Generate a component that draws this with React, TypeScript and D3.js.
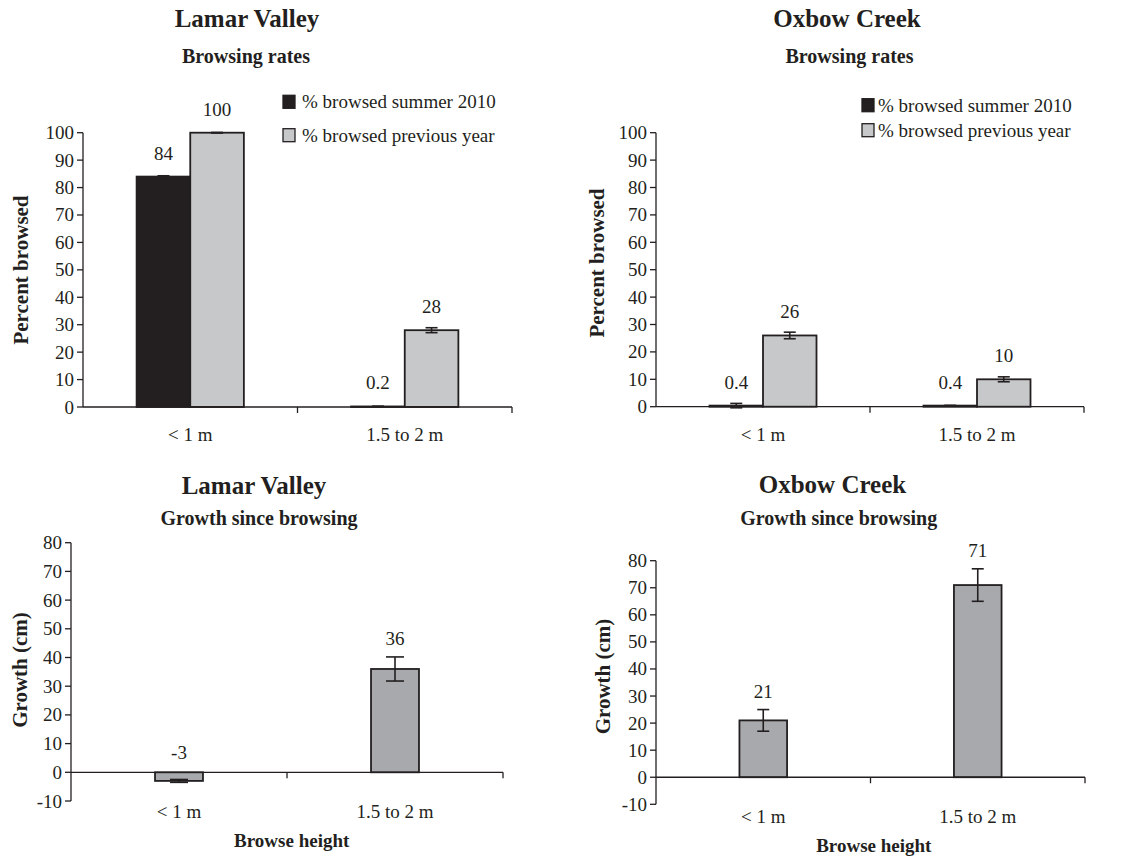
import React from "react";
import * as d3 from "d3";

const FONT = "'Liberation Serif', 'Times New Roman', Times, serif";
const INK = "#231f20";
const COL_2010 = "#231f20";
const COL_PREV = "#c7c8ca";
const COL_GROWTH = "#a7a9ac";

// ---- data ----
const heights = ["< 1 m", "1.5 to 2 m"];
const seriesNames = ["% browsed summer 2010", "% browsed previous year"];

const lamarBrowsed2010 = [84, 0.2];
const lamarBrowsed2010Err = [0.3, 0.1];
const lamarBrowsedPrev = [100, 28];
const lamarBrowsedPrevErr = [0.1, 0.9];

const oxbowBrowsed2010 = [0.4, 0.4];
const oxbowBrowsed2010Err = [0.8, 0.1];
const oxbowBrowsedPrev = [26, 10];
const oxbowBrowsedPrevErr = [1.2, 0.9];

const lamarGrowth = [-3, 36];
const lamarGrowthErr = [0.5, 4.2];
const oxbowGrowth = [21, 71];
const oxbowGrowthErr = [4, 6];

const browseTicks = [0, 10, 20, 30, 40, 50, 60, 70, 80, 90, 100];
const growthTicks = [-10, 0, 10, 20, 30, 40, 50, 60, 70, 80];

type Layout = {
  x0: number; x1: number; yBottom: number; yTop: number;
  title: [number, number]; subtitle: [number, number];
  ylab: [number, number]; xlabBase: number;
  capW: number;
};

function YAxis({ y, x0, ticks }: { y: d3.ScaleLinear<number, number>; x0: number; ticks: number[] }) {
  const [lo, hi] = [d3.min(ticks)!, d3.max(ticks)!];
  return (
    <g>
      <line x1={x0} x2={x0} y1={y(lo)} y2={y(hi)} stroke={INK} strokeWidth={1.3} />
      {ticks.map((t) => (
        <g key={t}>
          <line x1={x0 - 6} x2={x0} y1={y(t)} y2={y(t)} stroke={INK} strokeWidth={1.3} />
          <text x={x0 - 9} y={y(t)} textAnchor="end" dominantBaseline="central" fontSize={19} fill={INK}>
            {t}
          </text>
        </g>
      ))}
    </g>
  );
}

function XAxis({ x, yAxis, labelBase }: { x: d3.ScaleBand<string>; yAxis: number; labelBase: number }) {
  const [r0, r1] = x.range();
  const bounds = heights.map((h) => (x(h) as number) + x.bandwidth()).concat([]);
  return (
    <g>
      <line x1={r0} x2={r1} y1={yAxis} y2={yAxis} stroke={INK} strokeWidth={1.3} />
      {bounds.map((b, i) => (
        <line key={i} x1={b} x2={b} y1={yAxis} y2={yAxis + 6} stroke={INK} strokeWidth={1.3} />
      ))}
      {heights.map((h) => (
        <text key={h} x={(x(h) as number) + x.bandwidth() / 2} y={labelBase} textAnchor="middle" fontSize={19} fill={INK}>
          {h}
        </text>
      ))}
    </g>
  );
}

function ErrorBar({ cx, y, v, e, w }: { cx: number; y: d3.ScaleLinear<number, number>; v: number; e: number; w: number }) {
  return (
    <g stroke={INK} strokeWidth={1.6}>
      <line x1={cx} x2={cx} y1={y(v - e)} y2={y(v + e)} />
      <line x1={cx - w / 2} x2={cx + w / 2} y1={y(v - e)} y2={y(v - e)} />
      <line x1={cx - w / 2} x2={cx + w / 2} y1={y(v + e)} y2={y(v + e)} />
    </g>
  );
}

function Titles({ L, title, subtitle, ylab }: { L: Layout; title: string; subtitle: string; ylab: string }) {
  return (
    <g fill={INK} fontWeight="bold">
      <text x={L.title[0]} y={L.title[1]} textAnchor="middle" fontSize={25}>{title}</text>
      <text x={L.subtitle[0]} y={L.subtitle[1]} textAnchor="middle" fontSize={20}>{subtitle}</text>
      <text
        transform={`translate(${L.ylab[0]},${L.ylab[1]}) rotate(-90)`}
        textAnchor="middle"
        dominantBaseline="central"
        fontSize={21}
      >
        {ylab}
      </text>
    </g>
  );
}

function BrowsePanel({
  L, title, v2010, e2010, vPrev, ePrev, legend,
}: {
  L: Layout; title: string; v2010: number[]; e2010: number[]; vPrev: number[]; ePrev: number[];
  legend: { sx: number; tx: number; rows: [number, number] };
}) {
  const x = d3.scaleBand<string>().domain(heights).range([L.x0, L.x1]).padding(0);
  const y = d3.scaleLinear().domain([0, 100]).range([L.yBottom, L.yTop]);
  const bw = x.bandwidth() * 0.25;
  const series = [
    { vals: v2010, errs: e2010, color: COL_2010, off: -bw },
    { vals: vPrev, errs: ePrev, color: COL_PREV, off: 0 },
  ];
  return (
    <g>
      <Titles L={L} title={title} subtitle="Browsing rates" ylab="Percent browsed" />
      {series.map((s, si) =>
        heights.map((h, i) => {
          const c = (x(h) as number) + x.bandwidth() / 2;
          const bx = c + s.off;
          const v = s.vals[i];
          return (
            <g key={`${si}-${i}`}>
              <rect x={bx} y={y(v)} width={bw} height={y(0) - y(v)} fill={s.color} stroke={INK} strokeWidth={1.8} />
              <ErrorBar cx={bx + bw / 2} y={y} v={v} e={s.errs[i]} w={L.capW} />
              <text x={bx + bw / 2} y={y(v) - 17} textAnchor="middle" fontSize={19} fill={INK}>{v}</text>
            </g>
          );
        })
      )}
      <YAxis y={y} x0={L.x0} ticks={browseTicks} />
      <XAxis x={x} yAxis={y(0)} labelBase={L.xlabBase} />
      {seriesNames.map((n, i) => (
        <g key={n}>
          <rect x={legend.sx} y={legend.rows[i] - 13} width={12} height={13} fill={series[i].color} stroke={INK} strokeWidth={1.3} />
          <text x={legend.tx} y={legend.rows[i]} fontSize={19} fill={INK}>{n}</text>
        </g>
      ))}
    </g>
  );
}

function GrowthPanel({
  L, title, vals, errs, xTitle,
}: {
  L: Layout; title: string; vals: number[]; errs: number[]; xTitle: [number, number];
}) {
  const x = d3.scaleBand<string>().domain(heights).range([L.x0, L.x1]).padding(0);
  const y = d3.scaleLinear().domain([-10, 80]).range([L.yBottom, L.yTop]);
  const bw = x.bandwidth() * 0.222;
  return (
    <g>
      <Titles L={L} title={title} subtitle="Growth since browsing" ylab="Growth (cm)" />
      {heights.map((h, i) => {
        const c = (x(h) as number) + x.bandwidth() / 2;
        const v = vals[i];
        const top = y(Math.max(v, 0));
        const bot = y(Math.min(v, 0));
        return (
          <g key={h}>
            <rect x={c - bw / 2} y={top} width={bw} height={bot - top} fill={COL_GROWTH} stroke={INK} strokeWidth={1.8} />
            <ErrorBar cx={c} y={y} v={v} e={errs[i]} w={L.capW} />
            <text x={c} y={y(Math.max(v, 0) + errs[i]) - 12} textAnchor="middle" fontSize={19} fill={INK}>{v}</text>
          </g>
        );
      })}
      <YAxis y={y} x0={L.x0} ticks={growthTicks} />
      <XAxis x={x} yAxis={y(0)} labelBase={L.xlabBase} />
      <text x={xTitle[0]} y={xTitle[1]} textAnchor="middle" fontSize={19} fontWeight="bold" fill={INK}>
        Browse height
      </text>
    </g>
  );
}

export default function App() {
  const TL: Layout = {
    x0: 83, x1: 512, yBottom: 407, yTop: 132.7,
    title: [247, 27], subtitle: [246, 63], ylab: [21, 270], xlabBase: 441, capW: 12,
  };
  const TR: Layout = {
    x0: 656, x1: 1084, yBottom: 406.7, yTop: 132.7,
    title: [847, 27], subtitle: [849.5, 62.7], ylab: [597, 263], xlabBase: 441, capW: 12,
  };
  const BL: Layout = {
    x0: 71, x1: 503, yBottom: 801, yTop: 542.7,
    title: [254, 494], subtitle: [259, 525], ylab: [19.5, 670], xlabBase: 818, capW: 18,
  };
  const BR: Layout = {
    x0: 656, x1: 1085, yBottom: 804.3, yTop: 560.7,
    title: [832.5, 493], subtitle: [838.7, 525], ylab: [603, 676.5], xlabBase: 822.7, capW: 12,
  };
  return (
    <svg
      width={1126}
      height={858}
      style={{ position: "absolute", left: 0, top: 0, background: "#fff" }}
      fontFamily={FONT}
    >
      <rect width={1126} height={858} fill="#fff" />
      <BrowsePanel
        L={TL} title="Lamar Valley"
        v2010={lamarBrowsed2010} e2010={lamarBrowsed2010Err}
        vPrev={lamarBrowsedPrev} ePrev={lamarBrowsedPrevErr}
        legend={{ sx: 283, tx: 302, rows: [108.3, 141.7] }}
      />
      <BrowsePanel
        L={TR} title="Oxbow Creek"
        v2010={oxbowBrowsed2010} e2010={oxbowBrowsed2010Err}
        vPrev={oxbowBrowsedPrev} ePrev={oxbowBrowsedPrevErr}
        legend={{ sx: 862, tx: 878, rows: [111.7, 136.7] }}
      />
      <GrowthPanel L={BL} title="Lamar Valley" vals={lamarGrowth} errs={lamarGrowthErr} xTitle={[291.7, 847]} />
      <GrowthPanel L={BR} title="Oxbow Creek" vals={oxbowGrowth} errs={oxbowGrowthErr} xTitle={[873.8, 851.7]} />
    </svg>
  );
}
